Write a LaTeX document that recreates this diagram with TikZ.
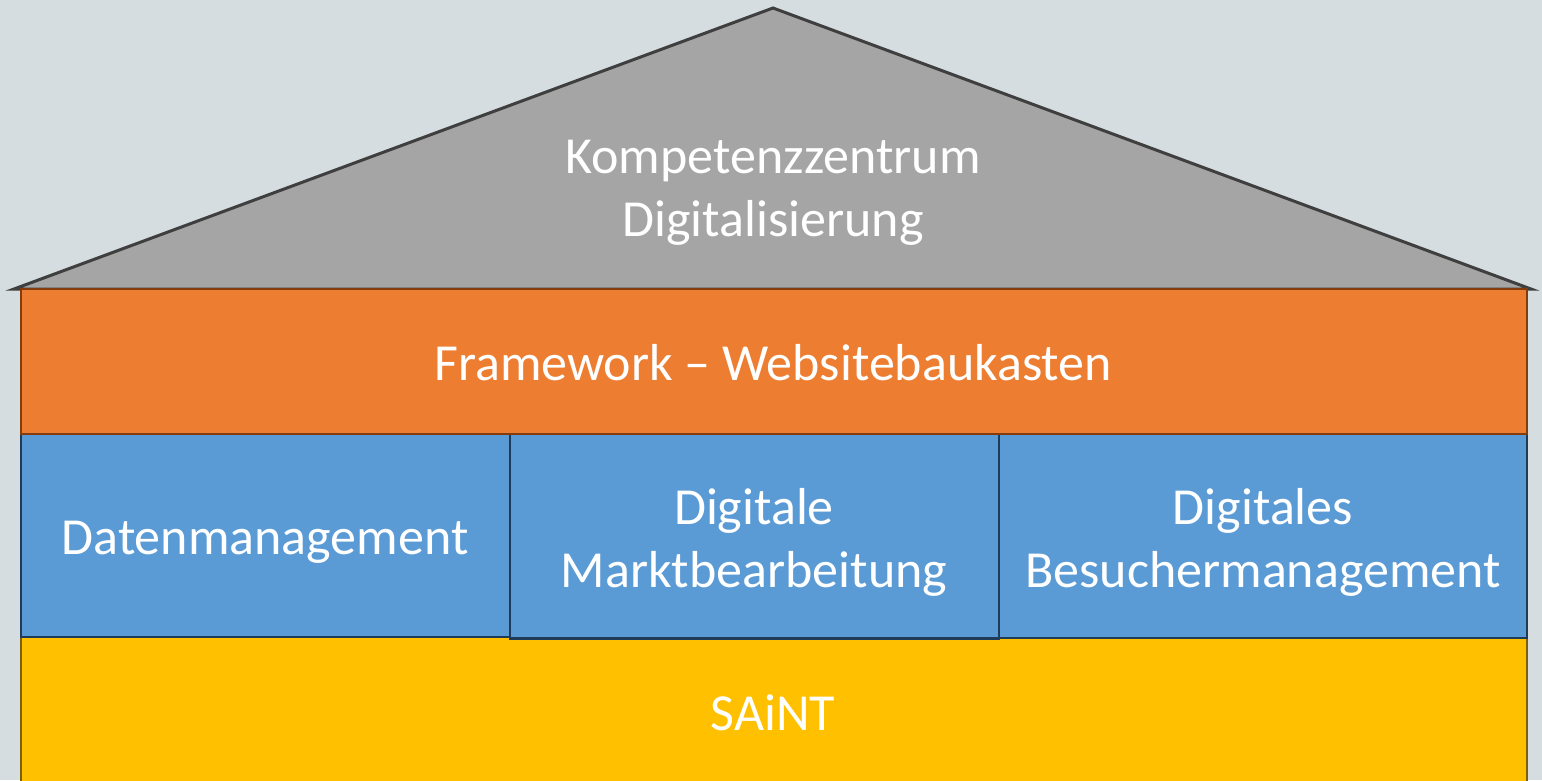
\documentclass[tikz,border=0pt]{standalone}
\usepackage{fontspec}
\setmainfont{Carlito}
\definecolor{bgc}{HTML}{D5DDE0}
\definecolor{roofc}{HTML}{A5A5A5}
\definecolor{roofl}{HTML}{3F3F3F}
\definecolor{orf}{HTML}{ED7D31}
\definecolor{orl}{HTML}{843C0C}
\definecolor{blf}{HTML}{5B9BD5}
\definecolor{bll}{HTML}{1F3B5A}
\definecolor{yef}{HTML}{FFC000}
\definecolor{yel}{HTML}{7F6000}
\tikzset{
  x=1pt, y=-1pt,
  lbl/.style={text=white, align=center, font=\fontsize{52}{63}\selectfont, inner sep=0pt},
  blk/.style={line width=2.6pt}
}
\begin{document}
\begin{tikzpicture}
\useasboundingbox (0,0) rectangle (1542,780);
\fill[bgc] (0,0) rectangle (1542,780);
\begin{scope}
\clip (0,0) rectangle (1542,780);
% roof
\coordinate (apex) at (773,8);
\coordinate (rl) at (14,289);
\coordinate (rr) at (1531,289);
\filldraw[fill=roofc, draw=roofl, line width=3pt, line join=miter] (rl) -- (apex) -- (rr) -- cycle;
% yellow base
\filldraw[blk, fill=yef, draw=yel] (21,637) rectangle (1527,800);
% blue boxes
\filldraw[blk, fill=blf, draw=bll] (21,434) rectangle (510,637);
\filldraw[blk, fill=blf, draw=bll] (510,434) rectangle (999,638.5);
\filldraw[blk, fill=blf, draw=bll] (999,434) rectangle (1527,638);
% orange
\filldraw[blk, fill=orf, draw=orl] (21,289) rectangle (1527,434);
\end{scope}
\node[lbl] (roof) at (773,193) {Kompetenzzentrum\\Digitalisierung};
\node[lbl] (fw) at (773,363) {Framework – Websitebaukasten};
\node[lbl] (dm) at (265,542) {Datenmanagement};
\node[lbl] (mb) at (754,542) {Digitale\\Marktbearbeitung};
\node[lbl] (bm) at (1263,542) {Digitales\\Besuchermanagement};
\node[lbl] (saint) at (773,713) {SAiNT};
\end{tikzpicture}
\end{document}
